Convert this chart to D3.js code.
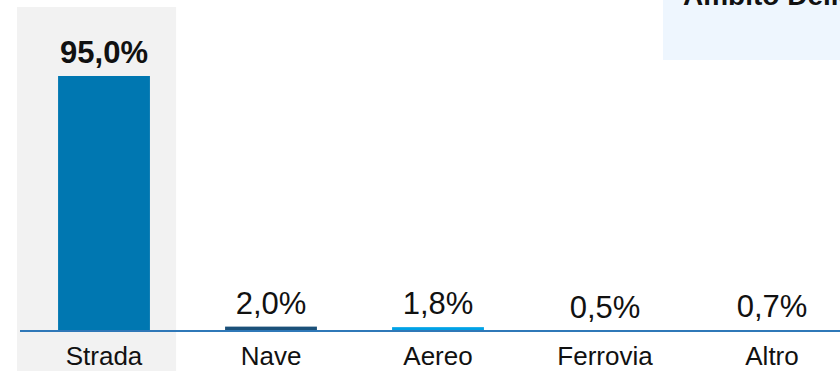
<!DOCTYPE html>
<html>
<head>
<meta charset="utf-8">
<script src="https://cdn.jsdelivr.net/npm/d3@7"></script>
<style>
  body { margin: 0; background: #fff; }
  svg { display: block; font-family: Arial, "Liberation Sans", sans-serif; }
</style>
</head>
<body>
<svg id="canvas" width="840" height="371"></svg>
<script>
const categories = ["Strada", "Nave", "Aereo", "Ferrovia", "Altro"];
const shares = [95.0, 2.0, 1.8, 0.5, 0.7];
const barColors = ["#0077b1", "#1b5079", "#00a2e6", "#4a90c8", "#7fb3dc"];
const highlighted = "Strada";
const boxTitle = "Ambito Delle merci";

const svg = d3.select("svg#canvas");
const width = +svg.attr("width");
const height = +svg.attr("height");

const data = categories.map((c, i) => ({ name: c, value: shares[i], color: barColors[i] }));

const x = d3.scaleBand()
  .domain(categories)
  .range([20.5, 855.5])
  .paddingInner(0.45)
  .paddingOuter(0.225);

const y = d3.scaleLinear()
  .domain([0, 95])
  .range([332, 76]);

const fmt = (v) => d3.format(".1f")(v).replace(".", ",") + "%";

// highlight behind the selected column
svg.append("rect")
  .attr("x", x(highlighted) - 41)
  .attr("y", 7)
  .attr("width", 159)
  .attr("height", height - 7)
  .attr("fill", "#f2f2f2");

// top-right info box (cut off by the frame)
svg.append("rect")
  .attr("x", 663)
  .attr("y", 0)
  .attr("width", width - 663)
  .attr("height", 60)
  .attr("fill", "#eef6fe");

svg.append("text")
  .attr("x", 683)
  .attr("y", 5)
  .attr("font-size", 28)
  .attr("font-weight", "bold")
  .attr("fill", "#111")
  .text(boxTitle);

// bars
svg.append("g")
  .selectAll("rect")
  .data(data)
  .enter()
  .append("rect")
  .attr("x", (d) => x(d.name))
  .attr("y", (d) => y(d.value))
  .attr("width", x.bandwidth())
  .attr("height", (d) => y(0) - y(d.value))
  .attr("fill", (d) => d.color);

// baseline
svg.append("line")
  .attr("x1", 20)
  .attr("x2", width)
  .attr("y1", 331)
  .attr("y2", 331)
  .attr("stroke", "#2f78b8")
  .attr("stroke-width", 2);

// value labels
svg.append("g")
  .selectAll("text")
  .data(data)
  .enter()
  .append("text")
  .attr("x", (d) => x(d.name) + x.bandwidth() / 2)
  .attr("y", (d) => y(d.value) - 13)
  .attr("text-anchor", "middle")
  .attr("font-size", 31)
  .attr("font-weight", (d) => (d.name === highlighted ? "bold" : "normal"))
  .attr("fill", "#111")
  .text((d) => fmt(d.value));

// category labels
const xAxis = svg.append("g")
  .attr("transform", `translate(0,${332})`)
  .call(d3.axisBottom(x).tickSize(0).tickPadding(0));
xAxis.select(".domain").remove();
xAxis.selectAll("text")
  .attr("y", 33)
  .attr("dy", 0)
  .attr("font-size", 26)
  .attr("font-family", "Arial, 'Liberation Sans', sans-serif")
  .attr("fill", "#111");
</script>
</body>
</html>
